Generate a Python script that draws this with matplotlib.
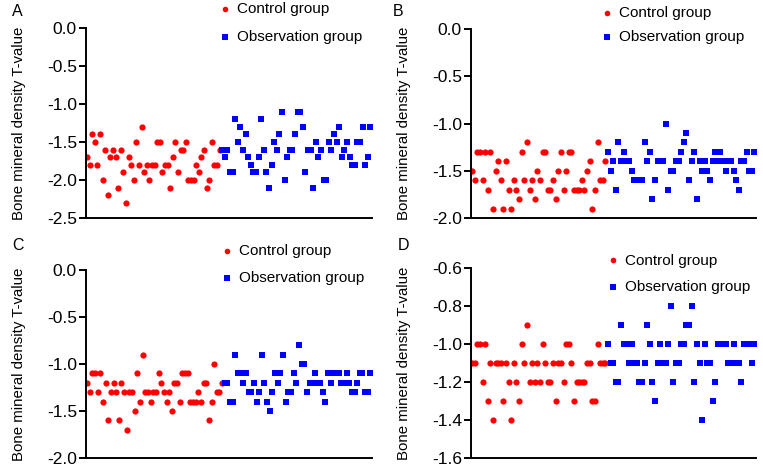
import matplotlib
matplotlib.use("Agg")
import matplotlib.pyplot as plt
import numpy as np

plt.rcParams['font.family'] = ['Liberation Sans', 'DejaVu Sans']

# panel A
control_a = [-1.7, -1.8, -1.4, -1.5, -1.8, -1.4, -2.0, -1.6, -2.2, -1.7, -1.6, -1.7, -2.1, -1.6,
             -1.9, -2.3, -1.7, -1.8, -2.0, -1.5, -1.8, -1.3, -1.9, -1.8, -2.0, -1.8, -1.8, -1.5,
             -1.5, -1.9, -1.8, -1.8, -2.1, -1.7, -1.5, -1.9, -1.6, -1.6, -1.5, -2.0, -2.0, -2.0,
             -1.8, -1.9, -1.7, -1.6, -2.1, -2.0, -1.5, -1.8, -1.8, -1.6]
observ_a = [-1.6, -1.7, -1.6, -1.9, -1.9, -1.2, -1.5, -1.3, -1.6, -1.4, -1.7, -1.8, -1.9, -1.9,
            -1.7, -1.2, -1.6, -1.9, -2.1, -1.8, -1.5, -1.6, -1.4, -1.1, -2.0, -1.7, -1.6, -1.6,
            -1.4, -1.1, -1.1, -1.3, -1.9, -1.6, -1.6, -2.1, -1.5, -1.7, -1.6, -2.0, -2.0, -1.5,
            -1.6, -1.4, -1.5, -1.3, -1.7, -1.6, -1.5, -1.7, -1.8, -1.8, -1.5, -1.5, -1.3, -1.8,
            -1.7, -1.3]

# panel B
control_b = [-1.5, -1.6, -1.3, -1.3, -1.6, -1.3, -1.7, -1.3, -1.9, -1.5, -1.4, -1.6, -1.9, -1.4,
             -1.7, -1.9, -1.6, -1.7, -1.8, -1.3, -1.6, -1.2, -1.7, -1.6, -1.8, -1.5, -1.6, -1.3,
             -1.3, -1.7, -1.7, -1.6, -1.8, -1.5, -1.3, -1.7, -1.5, -1.3, -1.3, -1.7, -1.7, -1.7,
             -1.6, -1.7, -1.5, -1.4, -1.9, -1.7, -1.2, -1.6, -1.6, -1.4]
observ_b = [-1.3, -1.5, -1.4, -1.7, -1.2, -1.4, -1.3, -1.4, -1.4, -1.5, -1.6, -1.6, -1.6, -1.6,
            -1.2, -1.4, -1.3, -1.8, -1.6, -1.4, -1.4, -1.4, -1.0, -1.7, -1.5, -1.5, -1.4, -1.4,
            -1.3, -1.2, -1.1, -1.6, -1.4, -1.3, -1.8, -1.4, -1.5, -1.4, -1.5, -1.6, -1.4, -1.3,
            -1.4, -1.3, -1.4, -1.5, -1.4, -1.4, -1.5, -1.6, -1.7, -1.4, -1.4, -1.3, -1.5, -1.5,
            -1.3]

# panel C
control_c = [-1.2, -1.3, -1.1, -1.1, -1.3, -1.1, -1.4, -1.2, -1.6, -1.3, -1.2, -1.3, -1.6, -1.2,
             -1.3, -1.7, -1.3, -1.3, -1.5, -1.1, -1.4, -0.9, -1.3, -1.3, -1.4, -1.3, -1.3, -1.1,
             -1.2, -1.3, -1.4, -1.3, -1.5, -1.2, -1.2, -1.4, -1.1, -1.1, -1.1, -1.4, -1.4, -1.4,
             -1.3, -1.4, -1.2, -1.2, -1.6, -1.4, -1.0, -1.3, -1.3, -1.2]
observ_c = [-1.2, -1.2, -1.4, -1.4, -0.9, -1.1, -1.1, -1.2, -1.1, -1.3, -1.3, -1.2, -1.4, -1.3,
            -0.9, -1.2, -1.4, -1.5, -1.3, -1.1, -1.2, -1.1, -0.9, -1.4, -1.3, -1.3, -1.1, -1.2,
            -0.8, -1.0, -1.0, -1.3, -1.2, -1.2, -1.1, -1.2, -1.2, -1.3, -1.4, -1.1, -1.2, -1.1,
            -1.1, -1.1, -1.2, -1.2, -1.1, -1.2, -1.3, -1.3, -1.2, -1.1, -1.1, -1.3, -1.3, -1.1]

# panel D
control_d = [-1.1, -1.1, -1.0, -1.0, -1.2, -1.0, -1.3, -1.1, -1.4, -1.1, -1.1, -1.1, -1.3, -1.1,
             -1.2, -1.4, -1.1, -1.2, -1.3, -1.0, -1.1, -0.9, -1.2, -1.1, -1.2, -1.1, -1.2, -1.0,
             -1.1, -1.2, -1.2, -1.1, -1.3, -1.1, -1.1, -1.2, -1.0, -1.0, -1.1, -1.3, -1.2, -1.2,
             -1.2, -1.2, -1.1, -1.1, -1.3, -1.3, -1.0, -1.1, -1.1, -1.1]
observ_d = [-1.0, -1.1, -1.1, -1.2, -1.2, -0.9, -1.0, -1.0, -1.1, -1.0, -1.1, -1.1, -1.2, -1.2,
            -1.1, -0.9, -1.0, -1.2, -1.3, -1.1, -1.0, -1.1, -1.1, -1.0, -0.8, -1.2, -1.1, -1.1,
            -1.0, -1.0, -0.9, -0.9, -0.8, -1.2, -1.0, -1.1, -1.4, -1.0, -1.1, -1.1, -1.3, -1.2,
            -1.0, -1.0, -1.0, -1.0, -1.1, -1.1, -1.0, -1.1, -1.1, -1.2, -1.0, -1.0, -1.0, -1.1,
            -1.0]

yticks_abc = [0.0, -0.5, -1.0, -1.5, -2.0, -2.5]
yticks_d = [-0.6, -0.8, -1.0, -1.2, -1.4, -1.6]

ylabel = "Bone mineral density T-value"
W, H = 763, 468

fig = plt.figure(figsize=(7.63, 4.68), dpi=100)


def panel(rect, ctrl, obs, ylim, yticks, letter, letter_xy, leg_xy, leg_sp):
    l, t, r, b = rect
    ax = fig.add_axes([l / W, 1 - b / H, (r - l) / W, (b - t) / H])
    n1 = len(ctrl)
    x1 = np.arange(n1)
    x2 = np.arange(n1, n1 + len(obs))
    ax.scatter(x1, ctrl, s=20, c='#ff0000', marker='o', linewidths=0, label='Control group')
    ax.scatter(x2, obs, s=20, c='#0000ff', marker='s', linewidths=0, label='Observation group')
    ax.set_xlim(-0.4, n1 + len(obs) - 0.4)
    ax.set_ylim(*ylim)
    ax.set_yticks(yticks)
    ax.set_yticklabels(['%.1f' % v for v in yticks], fontsize=12.5)
    ax.set_xticks([])
    for s in ['top', 'right']:
        ax.spines[s].set_visible(False)
    for s in ['left', 'bottom']:
        ax.spines[s].set_linewidth(1.4)
    ax.tick_params(axis='y', length=5, width=1.4, pad=1.5, color='black')
    ax.set_ylabel(ylabel, fontsize=10.8)
    ax.yaxis.set_label_coords(-60 / (r - l), 0.5)
    fig.text(letter_xy[0] / W, 1 - letter_xy[1] / H, letter, fontsize=11.5, va='center', ha='left')
    ax.legend(loc='upper left', bbox_to_anchor=(leg_xy[0] / W, 1 - leg_xy[1] / H),
              bbox_transform=fig.transFigure, frameon=False, fontsize=11,
              borderpad=0, borderaxespad=0, handlelength=0.8, handletextpad=0.38,
              labelspacing=leg_sp, scatterpoints=1, markerscale=0.9)
    return ax


panel((86, 28, 372, 218), control_a, observ_a, (-2.5, 0.0), yticks_abc, 'A', (12, 12), (219, 2.5), 0.86)
panel((471, 29, 756, 218), control_b, observ_b, (-2.0, 0.0), yticks_abc[:5], 'B', (393, 12), (601, 6.5), 0.6)
panel((86, 270, 372, 458), control_c, observ_c, (-2.0, 0.0), yticks_abc[:5], 'C', (12, 245), (221, 244.5), 0.8)
panel((471, 268, 756, 458), control_d, observ_d, (-1.6, -0.6), yticks_d, 'D', (398, 245), (607, 253.5), 0.8)

fig.savefig('out.png', dpi=100)
